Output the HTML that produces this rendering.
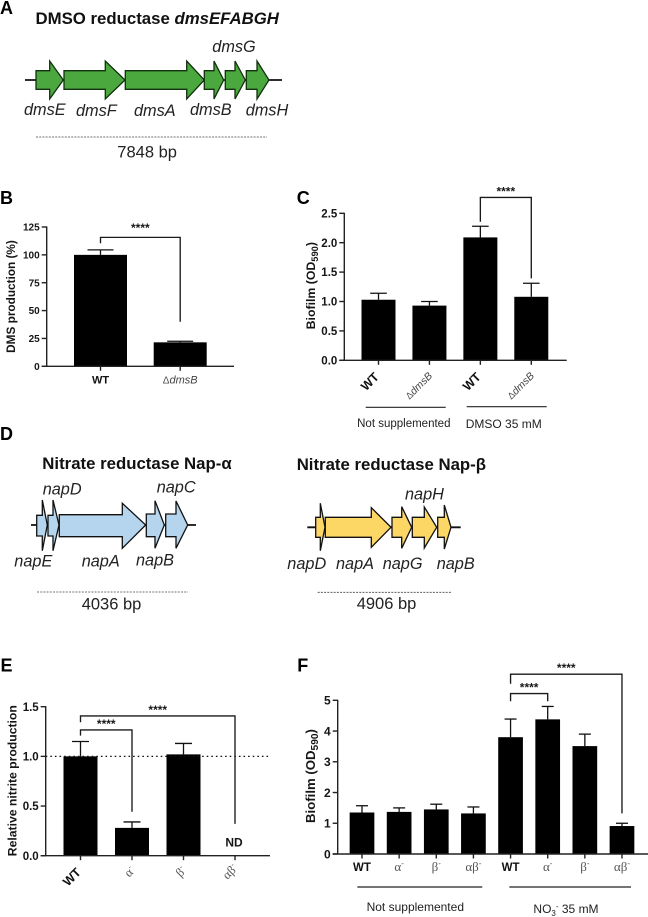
<!DOCTYPE html>
<html lang="en">
<head>
<meta charset="utf-8">
<title>DMSO and nitrate reductase figure</title>
<style>
html,body{margin:0;padding:0;background:#fff}
svg{display:block}
text{font-family:"Liberation Sans",sans-serif;fill:#161616}
.panel{font-weight:700;font-size:18px;fill:#000}
.title{font-weight:700;font-size:16.8px;fill:#111}
.gene{font-style:italic;font-size:16.3px;fill:#222}
.bp{font-size:16.5px;fill:#222}
.group{font-size:12px;fill:#222}
.group-c{font-size:11.5px;fill:#222}
.dms{fill:#4aa83f;stroke:#12300f;stroke-width:1.3}
.alpha{fill:#b5d5ee;stroke:#111;stroke-width:1.3}
.beta{fill:#fdd766;stroke:#111;stroke-width:1.3}
</style>
</head>
<body>
<svg id="figure" xmlns="http://www.w3.org/2000/svg" width="648" height="917" viewBox="0 0 648 917">
  <rect width="648" height="917" fill="#fff"/>

  <text class="panel" x="0" y="14">A</text>
  <text class="title" x="35.5" y="24">DMSO reductase <tspan font-style="italic">dmsEFABGH</tspan></text>
  <g>
    <line x1="25" x2="282" y1="80" y2="80" stroke="#111" stroke-width="1.8"/>
    <polygon class="dms" points="36,70.7 49.7,70.7 49.7,61 63.3,80 49.7,99 49.7,89.3 36,89.3"/>
    <polygon class="dms" points="64,70.7 105.3,70.7 105.3,61 125,80 105.3,99 105.3,89.3 64,89.3"/>
    <polygon class="dms" points="125.3,70.7 186.7,70.7 186.7,61 204.3,80 186.7,99 186.7,89.3 125.3,89.3"/>
    <polygon class="dms" points="204.3,70.7 214,70.7 214,61 223.7,80 214,99 214,89.3 204.3,89.3"/>
    <polygon class="dms" points="225.3,70.7 235,70.7 235,61 245.3,80 235,99 235,89.3 225.3,89.3"/>
    <polygon class="dms" points="246.3,70.7 257,70.7 257,61 269,80 257,99 257,89.3 246.3,89.3"/>
  </g>
  <text class="gene" x="24" y="115">dmsE</text>
  <text class="gene" x="76" y="116">dmsF</text>
  <text class="gene" x="134" y="116">dmsA</text>
  <text class="gene" x="190" y="115">dmsB</text>
  <text class="gene" x="245.7" y="115.6">dmsH</text>
  <text class="gene" x="212.3" y="52">dmsG</text>
  <line x1="36" x2="267" y1="137" y2="137" stroke="#444" stroke-width="0.8" stroke-dasharray="2 1.2"/>
  <text class="bp" x="117.3" y="157.3">7848 bp</text>

  <text class="panel" x="0" y="204">B</text>
  <g id="chart-b"></g>

  <text class="panel" x="296.7" y="204">C</text>
  <g id="chart-c"></g>
  <line x1="365.7" x2="445.7" y1="407.3" y2="407.3" stroke="#222" stroke-width="1.2"/>
  <line x1="466.7" x2="546.7" y1="406.7" y2="406.7" stroke="#222" stroke-width="1.2"/>
  <text class="group-c" x="403.8" y="427" text-anchor="middle">Not supplemented</text>
  <text class="group" x="503.7" y="428" text-anchor="middle">DMSO 35 mM</text>

  <text class="panel" x="0" y="440">D</text>
  <text class="title" x="42.3" y="469">Nitrate reductase Nap-α</text>
  <g>
    <line x1="31" x2="196" y1="525" y2="525" stroke="#111" stroke-width="1.8"/>
    <polygon class="alpha" points="36.7,515.3 42.3,515.3 42.3,500 47.3,525 42.3,550.7 42.3,536 36.7,536"/>
    <polygon class="alpha" points="48,515.3 53,515.3 53,500 59,525 53,550.7 53,536 48,536"/>
    <polygon class="alpha" points="59.3,514.7 122.3,514.7 122.3,503.3 145.7,525 122.3,548.3 122.3,536.7 59.3,536.7"/>
    <polygon class="alpha" points="146.3,514 155,514 155,500.7 164.3,525 155,548.3 155,536.7 146.3,536.7"/>
    <polygon class="alpha" points="165.7,514 176,514 176,501 187.7,525 176,548.3 176,536.7 165.7,536.7"/>
  </g>
  <text class="gene" x="42.7" y="494.3">napD</text>
  <text class="gene" x="156.7" y="492.7">napC</text>
  <text class="gene" x="14.3" y="566.7">napE</text>
  <text class="gene" x="81.7" y="566.7">napA</text>
  <text class="gene" x="136" y="565.7">napB</text>
  <line x1="37" x2="188" y1="592" y2="592" stroke="#444" stroke-width="0.8" stroke-dasharray="2 1.2"/>
  <text class="bp" x="81.7" y="609.3">4036 bp</text>

  <text class="title" x="296.7" y="470">Nitrate reductase Nap-β</text>
  <g>
    <line x1="307.3" x2="460.7" y1="527.3" y2="527.3" stroke="#111" stroke-width="1.8"/>
    <polygon class="beta" points="315.7,517.3 320.3,517.3 320.3,503.3 325,527.3 320.3,550.7 320.3,537.3 315.7,537.3"/>
    <polygon class="beta" points="325.3,517.3 371.3,517.3 371.3,507.7 391,527.3 371.3,547.3 371.3,537.3 325.3,537.3"/>
    <polygon class="beta" points="392,517.3 401.7,517.3 401.7,506.7 411.7,527.3 401.7,548.3 401.7,537.3 392,537.3"/>
    <polygon class="beta" points="412.3,517.3 424.3,517.3 424.3,507 436.7,527.3 424.3,548 424.3,537.3 412.3,537.3"/>
    <polygon class="beta" points="437.7,517.3 444.3,517.3 444.3,505 451,527.3 444.3,549 444.3,537.3 437.7,537.3"/>
  </g>
  <text class="gene" x="405" y="499.3">napH</text>
  <text class="gene" x="287.3" y="569">napD</text>
  <text class="gene" x="336" y="569">napA</text>
  <text class="gene" x="382.7" y="569">napG</text>
  <text class="gene" x="436.7" y="569">napB</text>
  <line x1="317.7" x2="451" y1="592.3" y2="592.3" stroke="#444" stroke-width="0.8" stroke-dasharray="2 1.2"/>
  <text class="bp" x="356.7" y="609">4906 bp</text>

  <text class="panel" x="0.5" y="671.7">E</text>
  <g id="chart-e"></g>

  <text class="panel" x="297.3" y="671.7">F</text>
  <g id="chart-f"></g>
  <line x1="357.3" x2="482.3" y1="887" y2="887" stroke="#222" stroke-width="1.2"/>
  <line x1="509.3" x2="631" y1="887" y2="887" stroke="#222" stroke-width="1.2"/>
  <text class="group" x="415.3" y="911" text-anchor="middle">Not supplemented</text>
  <text class="group" x="566" y="913" text-anchor="middle">NO<tspan font-size="8" dy="3">3</tspan><tspan font-size="8" dy="-7">-</tspan><tspan dy="4"> 35 mM</tspan></text>
</svg>

<script>
// Panel B data
var bCategories = ['WT', 'ΔdmsB'];
var bValues = [100, 21.5];
var bErrorTops = [104.5, 22.5];
var bTicks = ['0', '25', '50', '75', '100', '125'];

// Panel C data
var cCategories = ['WT', 'ΔdmsB', 'WT', 'ΔdmsB'];
var cValues = [1.03, 0.93, 2.09, 1.08];
var cErrorTops = [1.14, 1.0, 2.28, 1.31];
var cTicks = ['0.0', '0.5', '1.0', '1.5', '2.0', '2.5'];

// Panel E data
var eCategories = ['WT', 'α-', 'β-', 'αβ-'];
var eValues = [1.0, 0.28, 1.02, 0];
var eErrorTops = [1.15, 0.34, 1.13, 0];
var eTicks = ['0.0', '0.5', '1.0', '1.5'];

// Panel F data
var fCategories = ['WT', 'α-', 'β-', 'αβ-', 'WT', 'α-', 'β-', 'αβ-'];
var fValues = [1.35, 1.37, 1.45, 1.32, 3.8, 4.38, 3.51, 0.91];
var fErrorTops = [1.57, 1.5, 1.62, 1.53, 4.39, 4.8, 3.9, 1.0];
var fTicks = ['0', '1', '2', '3', '4', '5'];

var NS = 'http://www.w3.org/2000/svg';

function mark(parent, tag, attrs, name) {
  var el = document.createElementNS(NS, tag);
  for (var k in attrs) { el.setAttribute(k, attrs[k]); }
  
  
  parent.appendChild(el);
  return el;
}

function addSpan(textEl, str, attrs) {
  var s = document.createElementNS(NS, 'tspan');
  for (var k in attrs) { s.setAttribute(k, attrs[k]); }
  s.textContent = str;
  textEl.appendChild(s);
}

function fillCategory(textEl, label, size) {
  if (label === 'WT') {
    addSpan(textEl, label, { 'font-weight': '700', 'font-size': size.wt, fill: '#111' });
  } else if (label.charAt(0) === 'Δ') {
    addSpan(textEl, 'Δ', { 'font-size': size.gr - 1, fill: '#555' });
    addSpan(textEl, label.slice(1), { 'font-style': 'italic', 'font-size': size.gr, fill: '#444' });
  } else {
    addSpan(textEl, label.slice(0, -1), { 'font-family': '"Liberation Serif",serif', 'font-size': size.gr + 2, fill: '#555' });
    addSpan(textEl, '-', { 'font-size': size.gr - 3, dy: -5, fill: '#555' });
  }
}

function rotatedOffset(label) {
  if (label === 'WT') { return { dx: -8.5, dy: 21.5 }; }
  if (label.charAt(0) === 'Δ') { return { dx: -11, dy: 25 }; }
  return { dx: label.length > 2 ? -5 : -2.5, dy: 16 };
}

function drawChart(o) {
  var g = document.getElementById(o.id);
  var yOf = function (v) { return o.y0 + (o.yTop - o.y0) * v / o.yMax; };
  var xOf = function (i) { return o.x0 + o.step * i; };

  o.vals.forEach(function (v, i) {
    if (o.errs[i] > 0) {
      mark(g, 'line', { x1: xOf(i), x2: xOf(i), y1: yOf(v), y2: yOf(o.errs[i]), stroke: '#111', 'stroke-width': 1.3 }, 'error-bar-' + i);
      mark(g, 'line', { x1: xOf(i) - o.cap, x2: xOf(i) + o.cap, y1: yOf(o.errs[i]), y2: yOf(o.errs[i]), stroke: '#111', 'stroke-width': 1.3 }, 'error-cap-' + i);
    }
    if (v > 0) {
      mark(g, 'rect', { x: xOf(i) - o.bw / 2, y: yOf(v), width: o.bw, height: o.y0 - yOf(v), fill: '#000' }, 'bar-' + i);
    }
  });

  if (o.dotted !== undefined) {
    mark(g, 'line', { x1: o.axisX, x2: o.axisEnd, y1: yOf(o.dotted), y2: yOf(o.dotted), stroke: '#111', 'stroke-width': 1.2, 'stroke-dasharray': '1.6 3' }, 'reference-line');
  }

  mark(g, 'line', { x1: o.axisX, x2: o.axisX, y1: yOf(o.yMax) - 0.6, y2: o.y0, stroke: '#222', 'stroke-width': 1.4 }, 'y-axis');
  mark(g, 'line', { x1: o.axisX - 5, x2: o.axisEnd, y1: o.y0, y2: o.y0, stroke: '#222', 'stroke-width': 1.4 }, 'x-axis');

  o.ticks.forEach(function (t, i) {
    var v = o.yMax * i / (o.ticks.length - 1);
    mark(g, 'line', { x1: o.axisX - 5, x2: o.axisX, y1: yOf(v), y2: yOf(v), stroke: '#222', 'stroke-width': 1.4 }, 'y-tick-' + i);
    var tx = mark(g, 'text', { x: o.axisX - 7, y: yOf(v) + o.tickSize * 0.36, 'text-anchor': 'end', 'font-weight': '700', 'font-size': o.tickSize, fill: '#222' }, 'y-tick-label-' + i);
    tx.textContent = t;
  });

  o.cats.forEach(function (c, i) {
    mark(g, 'line', { x1: xOf(i), x2: xOf(i), y1: o.y0, y2: o.y0 + 4.5, stroke: '#222', 'stroke-width': 1.4 }, 'x-tick-' + i);
    var attrs;
    if (o.rotate) {
      var off = rotatedOffset(c);
      var cx = xOf(i) + off.dx;
      var cy = o.y0 + off.dy;
      attrs = { x: cx, y: cy + 4, 'text-anchor': 'middle', transform: 'rotate(-45 ' + cx + ' ' + cy + ')' };
    } else {
      attrs = { x: xOf(i), y: o.y0 + o.catDy, 'text-anchor': 'middle' };
    }
    var label = mark(g, 'text', attrs, 'x-category-label-' + i);
    fillCategory(label, c, o.catSize);
  });

  (o.brackets || []).forEach(function (b, i) {
    var pts = [xOf(b.from), yOf(b.leftEnd), xOf(b.from), yOf(b.top), xOf(b.to), yOf(b.top), xOf(b.to), yOf(b.rightEnd)];
    mark(g, 'polyline', { points: pts.join(' '), fill: 'none', stroke: '#1a1a1a', 'stroke-width': 1.35 }, 'significance-bracket-' + i);
    var star = mark(g, 'text', { x: (xOf(b.from) + xOf(b.to)) / 2, y: yOf(b.top) - (b.starGap || 2), 'text-anchor': 'middle', 'font-size': 12, 'font-weight': '700', fill: '#333' }, 'significance-stars-' + i);
    star.textContent = '****';
  });

  var title = mark(g, 'text', { x: 0, y: 0, 'text-anchor': 'middle', 'font-weight': '700', 'font-size': o.titleSize, fill: '#222', transform: 'translate(' + o.titleX + ' ' + o.titleY + ') rotate(-90)' }, 'y-axis-title');
  addSpan(title, o.title, {});
  if (o.titleSub) {
    addSpan(title, o.titleSub, { 'font-size': o.titleSize - 3, dy: 3 });
    addSpan(title, ')', { dy: -3 });
  }
  return { g: g, xOf: xOf, yOf: yOf };
}

drawChart({
  id: 'chart-b', cats: bCategories, vals: bValues, errs: bErrorTops, ticks: bTicks,
  yMax: 125, y0: 366.3, yTop: 227, x0: 100.5, step: 79.7, bw: 53, cap: 13,
  axisX: 46.7, axisEnd: 234, tickSize: 10, catDy: 17, catSize: { wt: 11, gr: 11 },
  title: 'DMS production (%)', titleSize: 11.8, titleX: 15, titleY: 296.5,
  brackets: [{ from: 0, to: 1, top: 115.7, leftEnd: 110.4, rightEnd: 40, starGap: 5.5 }]
});

drawChart({
  id: 'chart-c', cats: cCategories, vals: cValues, errs: cErrorTops, ticks: cTicks,
  yMax: 2.5, y0: 360.3, yTop: 213.3, x0: 378.5, step: 50.93, bw: 34, cap: 8.3,
  axisX: 344.3, axisEnd: 566.7, tickSize: 11.5, rotate: true, catSize: { wt: 12.5, gr: 10.5 },
  title: 'Biofilm (OD', titleSub: '590', titleSize: 12.3, titleX: 315, titleY: 285.7,
  brackets: [{ from: 2, to: 3, top: 2.77, leftEnd: 2.357, rightEnd: 1.394 }]
});

var eChart = drawChart({
  id: 'chart-e', cats: eCategories, vals: eValues, errs: eErrorTops, ticks: eTicks,
  yMax: 1.5, y0: 855.7, yTop: 706.7, x0: 80.5, step: 51.5, bw: 34, cap: 8.5,
  axisX: 45.7, axisEnd: 270, tickSize: 11.5, dotted: 1.0, rotate: true, catSize: { wt: 12.5, gr: 10.5 },
  title: 'Relative nitrite production', titleSize: 12.2, titleX: 16.5, titleY: 780.7,
  brackets: [
    { from: 0, to: 3, top: 1.407, leftEnd: 1.343, rightEnd: 0.32 },
    { from: 0, to: 1, top: 1.266, leftEnd: 1.209, rightEnd: 0.443 }
  ]
});
var nd = mark(eChart.g, 'text', { x: eChart.xOf(3) - 1, y: eChart.yOf(0) - 9, 'text-anchor': 'middle', 'font-weight': '700', 'font-size': 12, fill: '#111' }, 'not-detected-label');
nd.textContent = 'ND';

drawChart({
  id: 'chart-f', cats: fCategories, vals: fValues, errs: fErrorTops, ticks: fTicks,
  yMax: 5, y0: 854, yTop: 700.3, x0: 362, step: 37.14, bw: 24.7, cap: 6,
  axisX: 337.7, axisEnd: 648, tickSize: 12, catDy: 17, catSize: { wt: 11.5, gr: 11 },
  title: 'Biofilm (OD', titleSub: '590', titleSize: 13.2, titleX: 315, titleY: 776,
  brackets: [
    { from: 4, to: 7, top: 5.85, leftEnd: 5.54, rightEnd: 1.32 },
    { from: 4, to: 5, top: 5.22, leftEnd: 4.97, rightEnd: 4.97 }
  ]
});
</script>
</body>
</html>
